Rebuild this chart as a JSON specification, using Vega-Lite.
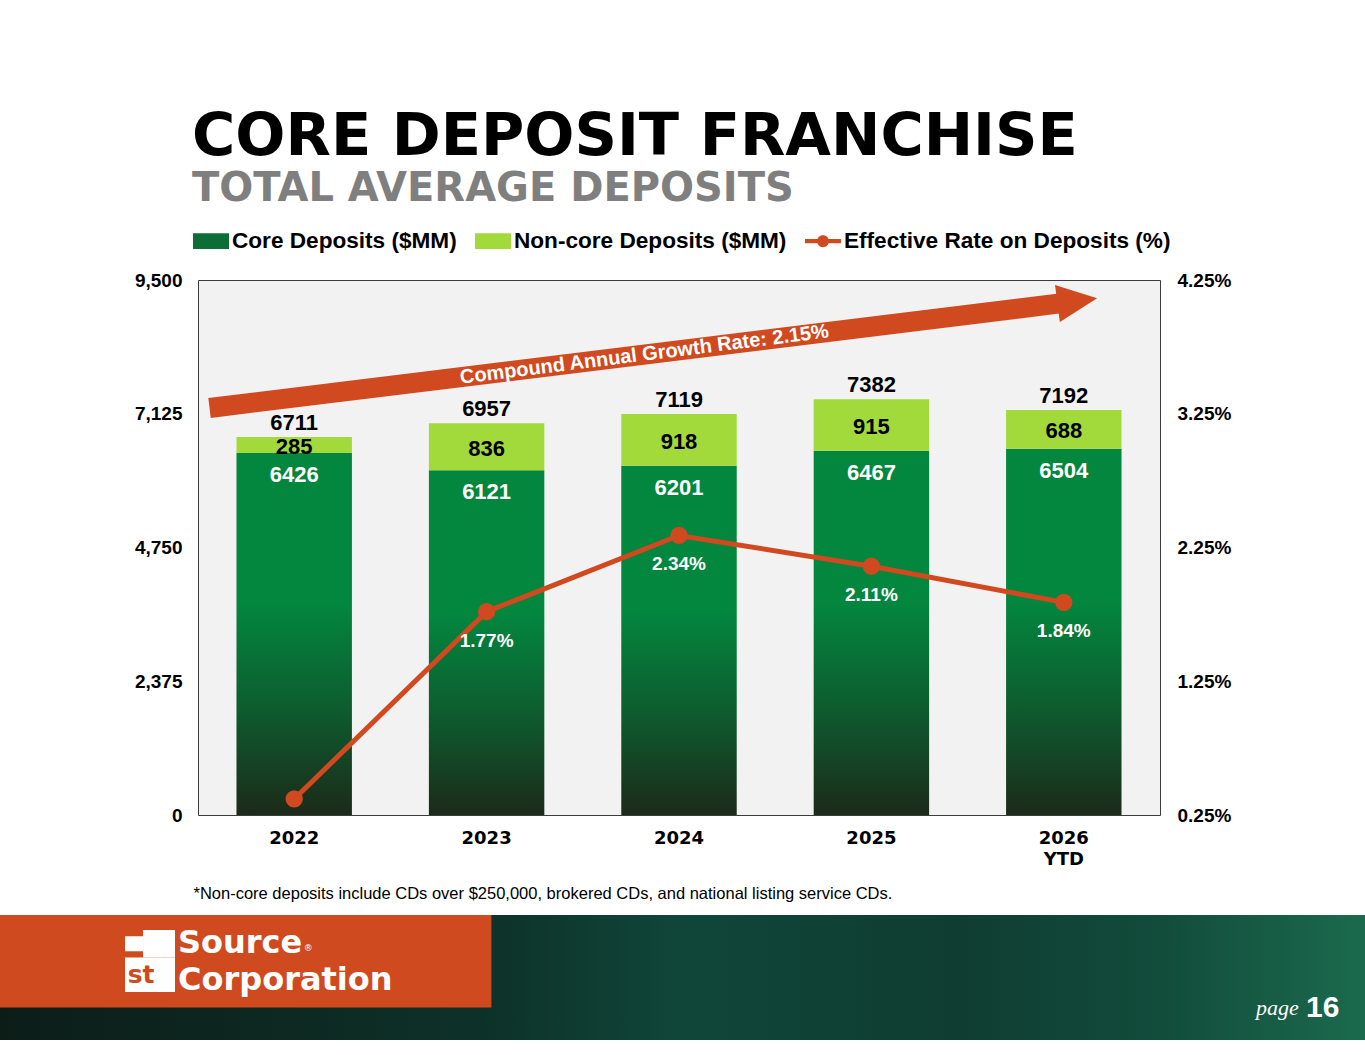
{
  "$schema": "https://vega.github.io/schema/vega-lite/v6.json",
  "padding": {"top": 107, "left": 0, "right": 0, "bottom": 0},
  "background": "#ffffff",
  "config": {"view": {"stroke": null}, "font": "Liberation Sans"},
  "datasets": {
    "deposits": [
      {"year": "2022", "core": 6426, "noncore": 285, "total": 6711, "rate": 0.0037},
      {"year": "2023", "core": 6121, "noncore": 836, "total": 6957, "rate": 0.0177},
      {"year": "2024", "core": 6201, "noncore": 918, "total": 7119, "rate": 0.0234},
      {"year": "2025", "core": 6467, "noncore": 915, "total": 7382, "rate": 0.0211},
      {"year": "2026 YTD", "core": 6504, "noncore": 688, "total": 7192, "rate": 0.0184}
    ],
    "cagr_arrow": [
      {"year": 2021.56, "deposits": 7227},
      {"year": 2025.98, "deposits": 9084}
    ]
  },
  "spacing": 13,
  "vconcat": [
    {
      "spacing": 20,
      "hconcat": [
        {"width": 113, "height": 10, "data": {"values": [{}]}, "mark": {"type": "point", "opacity": 0}},
        {
          "width": 962,
          "height": 535,
          "view": {"fill": "#f2f2f2", "stroke": "#3c3c3c", "strokeWidth": 1},
          "title": {
            "text": "CORE DEPOSIT FRANCHISE",
            "subtitle": "TOTAL AVERAGE DEPOSITS",
            "anchor": "start",
            "frame": "group",
            "dx": -6,
            "offset": 54,
            "font": "DejaVu Sans",
            "fontSize": 59,
            "fontWeight": "bold",
            "color": "#000000",
            "subtitleFont": "DejaVu Sans",
            "subtitleFontSize": 40,
            "subtitleFontWeight": "bold",
            "subtitleColor": "#7f7f7f",
            "subtitlePadding": 2
          },
          "resolve": {"scale": {"x": "independent", "y": "independent"}},
          "layer": [
            {
              "data": {"name": "deposits"},
              "layer": [
                {
                  "transform": [{"filter": "false"}],
                  "mark": {"type": "point", "filled": true, "opacity": 1},
                  "encoding": {
                    "color": {
                      "field": "series",
                      "type": "nominal",
                      "scale": {
                        "domain": ["Core Deposits ($MM)", "Non-core Deposits ($MM)", "Effective Rate on Deposits (%)"],
                        "range": ["#0b6f35", "#a3da3b", "#d1491f"]
                      },
                      "legend": {
                        "orient": "none",
                        "legendX": 193,
                        "legendY": -57,
                        "direction": "horizontal",
                        "title": null,
                        "labelFont": "Liberation Sans",
                        "labelFontSize": 22.6,
                        "labelFontWeight": "bold",
                        "labelColor": "#000000",
                        "labelLimit": 600,
                        "labelOffset": 3,
                        "columnPadding": 18,
                        "symbolSize": 1296,
                        "symbolStrokeWidth": 0,
                        "symbolOpacity": 1
                      }
                    },
                    "shape": {
                      "field": "series",
                      "type": "nominal",
                      "scale": {
                        "domain": ["Core Deposits ($MM)", "Non-core Deposits ($MM)", "Effective Rate on Deposits (%)"],
                        "range": ["M-1,-0.44L1,-0.44L1,0.44L-1,0.44Z", "M-1,-0.44L1,-0.44L1,0.44L-1,0.44Z", "M-1,-0.12L1,-0.12L1,0.12L-1,0.12Z M-0.33,0A0.33,0.33 0 1 1 0.33,0A0.33,0.33 0 1 1 -0.33,0Z"]
                      }
                    }
                  }
                },
                {
                  "mark": {
                    "type": "bar",
                    "fill": {"gradient": "linear", "x1": 0, "y1": 0, "x2": 0, "y2": 1, "stops": [{"offset": 0, "color": "#03863e"}, {"offset": 0.42, "color": "#03863e"}, {"offset": 0.72, "color": "#0e5a2e"}, {"offset": 1, "color": "#1c2a1a"}]}
                  },
                  "encoding": {
                    "x": {
                      "field": "year",
                      "type": "nominal",
                      "sort": null,
                      "scale": {"domain": ["2022", "2023", "2024", "2025", "2026 YTD"], "paddingInner": 0.4, "paddingOuter": 0.2},
                      "axis": {
                        "title": "*Non-core deposits include CDs over $250,000, brokered CDs, and national listing service CDs.",
                        "labelExpr": "split(datum.label, ' ')",
                        "labelAngle": 0,
                        "labelFont": "DejaVu Sans",
                        "labelFontSize": 18,
                        "labelFontWeight": "bold",
                        "labelColor": "#000000",
                        "labelPadding": 14,
                        "labelLineHeight": 21,
                        "domain": false,
                        "ticks": false,
                        "grid": false,
                        "titleFont": "Liberation Sans",
                        "titleFontSize": 16.5,
                        "titleFontWeight": "normal",
                        "titleColor": "#000000",
                        "titleAnchor": "start",
                        "titleAlign": "left",
                        "titleBaseline": "alphabetic",
                        "titleX": -5,
                        "titleY": 83
                      }
                    },
                    "y": {
                      "field": "core",
                      "type": "quantitative",
                      "scale": {"domain": [0, 9500], "nice": false},
                      "axis": {
                        "title": null,
                        "orient": "left",
                        "values": [0, 2375, 4750, 7125, 9500],
                        "format": ",.0f",
                        "labelFont": "Liberation Sans",
                        "labelFontSize": 19,
                        "labelFontWeight": "bold",
                        "labelColor": "#000000",
                        "labelPadding": 16,
                        "domain": false,
                        "ticks": false,
                        "grid": false
                      }
                    }
                  }
                },
                {
                  "mark": {"type": "bar", "fill": "#a3da3b"},
                  "encoding": {
                    "x": {"field": "year", "type": "nominal", "sort": null},
                    "y": {"field": "core", "type": "quantitative"},
                    "y2": {"field": "total"}
                  }
                },
                {
                  "mark": {"type": "text", "font": "Liberation Sans", "fontSize": 22, "fontWeight": "bold", "color": "#000000", "baseline": "alphabetic", "dy": -7},
                  "encoding": {
                    "x": {"field": "year", "type": "nominal", "sort": null},
                    "y": {"field": "total", "type": "quantitative"},
                    "text": {"field": "total", "type": "quantitative", "format": "d"}
                  }
                },
                {
                  "transform": [
                    {"fold": ["core", "total"], "as": ["part", "level"]},
                    {"aggregate": [{"op": "mean", "field": "level", "as": "mid"}, {"op": "max", "field": "noncore", "as": "noncore"}], "groupby": ["year"]}
                  ],
                  "mark": {"type": "text", "font": "Liberation Sans", "fontSize": 22, "fontWeight": "bold", "color": "#000000", "baseline": "middle", "dy": 2},
                  "encoding": {
                    "x": {"field": "year", "type": "nominal", "sort": null},
                    "y": {"field": "mid", "type": "quantitative"},
                    "text": {"field": "noncore", "type": "quantitative", "format": "d"}
                  }
                },
                {
                  "mark": {"type": "text", "font": "Liberation Sans", "fontSize": 22, "fontWeight": "bold", "color": "#ffffff", "baseline": "alphabetic", "dy": 29},
                  "encoding": {
                    "x": {"field": "year", "type": "nominal", "sort": null},
                    "y": {"field": "core", "type": "quantitative"},
                    "text": {"field": "core", "type": "quantitative", "format": "d"}
                  }
                }
              ]
            },
            {
              "layer": [
                {
                  "data": {"name": "cagr_arrow"},
                  "mark": {"type": "line", "color": "#d1491f", "strokeWidth": 20, "strokeCap": "butt"},
                  "encoding": {
                    "x": {"field": "year", "type": "quantitative", "scale": {"domain": [2021.5, 2026.5], "nice": false, "zero": false}, "axis": null},
                    "y": {"field": "deposits", "type": "quantitative", "scale": {"domain": [0, 9500], "nice": false}, "axis": null}
                  }
                },
                {
                  "data": {"values": [{}]},
                  "mark": {"type": "point", "filled": true, "opacity": 1, "color": "#d1491f", "shape": "M1,0L-1,-0.93L-1,0.93Z", "size": 1600, "angle": 352.5},
                  "encoding": {
                    "x": {"datum": 2026.07, "type": "quantitative"},
                    "y": {"datum": 9129, "type": "quantitative"}
                  }
                },
                {
                  "data": {"values": [{}]},
                  "mark": {"type": "text", "text": "Compound Annual Growth Rate: 2.15%", "font": "Liberation Sans", "fontSize": 20, "fontWeight": "bold", "color": "#ffffff", "align": "center", "baseline": "middle", "angle": 352.8},
                  "encoding": {
                    "x": {"datum": 2023.82, "type": "quantitative"},
                    "y": {"datum": 8175, "type": "quantitative"}
                  }
                }
              ]
            },
            {
              "data": {"name": "deposits"},
              "layer": [
                {
                  "mark": {"type": "line", "color": "#d1491f", "strokeWidth": 5},
                  "encoding": {
                    "x": {"field": "year", "type": "nominal", "sort": null, "scale": {"domain": ["2022", "2023", "2024", "2025", "2026 YTD"], "paddingInner": 0.4, "paddingOuter": 0.2}, "axis": null},
                    "y": {
                      "field": "rate",
                      "type": "quantitative",
                      "scale": {"domain": [0.0025, 0.0425], "nice": false, "zero": false},
                      "axis": {
                        "title": null,
                        "orient": "right",
                        "values": [0.0025, 0.0125, 0.0225, 0.0325, 0.0425],
                        "format": ".2%",
                        "labelFont": "Liberation Sans",
                        "labelFontSize": 19,
                        "labelFontWeight": "bold",
                        "labelColor": "#000000",
                        "labelPadding": 17,
                        "domain": false,
                        "ticks": false,
                        "grid": false
                      }
                    }
                  }
                },
                {
                  "mark": {"type": "point", "filled": true, "opacity": 1, "color": "#d1491f", "size": 300},
                  "encoding": {
                    "x": {"field": "year", "type": "nominal", "sort": null},
                    "y": {"field": "rate", "type": "quantitative"}
                  }
                },
                {
                  "transform": [{"filter": "datum.year !== '2022'"}],
                  "mark": {"type": "text", "font": "Liberation Sans", "fontSize": 19, "fontWeight": "bold", "color": "#ffffff", "baseline": "alphabetic", "dy": 35},
                  "encoding": {
                    "x": {"field": "year", "type": "nominal", "sort": null},
                    "y": {"field": "rate", "type": "quantitative"},
                    "text": {"field": "rate", "type": "quantitative", "format": ".2%"}
                  }
                }
              ]
            }
          ]
        }
      ]
    },
    {
      "width": 1365,
      "height": 125,
      "data": {"values": [{}]},
      "layer": [
        {
          "mark": {"type": "rect", "fill": {"gradient": "linear", "x1": 0, "y1": 0, "x2": 1, "y2": 0, "stops": [{"offset": 0, "color": "#0c1d18"}, {"offset": 0.35, "color": "#0d3128"}, {"offset": 0.5, "color": "#10463a"}, {"offset": 0.7, "color": "#0f3d31"}, {"offset": 0.85, "color": "#124c3b"}, {"offset": 1, "color": "#1b6a4e"}]}},
          "encoding": {
            "x": {"datum": 0, "type": "quantitative", "scale": {"domain": [0, 1], "nice": false, "zero": false}, "axis": null},
            "x2": {"datum": 1},
            "y": {"datum": 0, "type": "quantitative", "scale": {"domain": [0, 1], "nice": false, "zero": false, "reverse": true}, "axis": null},
            "y2": {"datum": 1}
          }
        },
        {
          "mark": {"type": "rect", "fill": "#d04a1f"},
          "encoding": {
            "x": {"datum": 0, "type": "quantitative"},
            "x2": {"datum": 0.36},
            "y": {"datum": 0, "type": "quantitative"},
            "y2": {"datum": 0.74}
          }
        },
        {
          "mark": {"type": "rect", "fill": "#ffffff"},
          "encoding": {
            "x": {"datum": 0.0916, "type": "quantitative"},
            "x2": {"datum": 0.1282},
            "y": {"datum": 0.34, "type": "quantitative"},
            "y2": {"datum": 0.616}
          }
        },
        {
          "mark": {"type": "rect", "fill": "#ffffff"},
          "encoding": {
            "x": {"datum": 0.1048, "type": "quantitative"},
            "x2": {"datum": 0.1282},
            "y": {"datum": 0.12, "type": "quantitative"},
            "y2": {"datum": 0.34}
          }
        },
        {
          "mark": {"type": "rect", "fill": "#ffffff"},
          "encoding": {
            "x": {"datum": 0.0916, "type": "quantitative"},
            "x2": {"datum": 0.1048},
            "y": {"datum": 0.17, "type": "quantitative"},
            "y2": {"datum": 0.29}
          }
        },
        {
          "mark": {"type": "text", "text": "st", "font": "DejaVu Sans", "fontSize": 25, "fontWeight": "bold", "color": "#d04a1f", "align": "left", "baseline": "alphabetic"},
          "encoding": {"x": {"datum": 0.0935, "type": "quantitative"}, "y": {"datum": 0.544, "type": "quantitative"}}
        },
        {
          "mark": {"type": "text", "text": "Source", "font": "DejaVu Sans", "fontSize": 32, "fontWeight": "bold", "color": "#ffffff", "align": "left", "baseline": "alphabetic"},
          "encoding": {"x": {"datum": 0.1304, "type": "quantitative"}, "y": {"datum": 0.304, "type": "quantitative"}}
        },
        {
          "mark": {"type": "text", "text": "®", "font": "DejaVu Sans", "fontSize": 9, "color": "#ffffff", "align": "left", "baseline": "alphabetic"},
          "encoding": {"x": {"datum": 0.2225, "type": "quantitative"}, "y": {"datum": 0.29, "type": "quantitative"}}
        },
        {
          "mark": {"type": "text", "text": "Corporation", "font": "DejaVu Sans", "fontSize": 32, "fontWeight": "bold", "color": "#ffffff", "align": "left", "baseline": "alphabetic"},
          "encoding": {"x": {"datum": 0.1304, "type": "quantitative"}, "y": {"datum": 0.6, "type": "quantitative"}}
        },
        {
          "mark": {"type": "text", "text": "page", "font": "Liberation Serif", "fontSize": 22, "fontStyle": "italic", "color": "#ffffff", "align": "left", "baseline": "alphabetic"},
          "encoding": {"x": {"datum": 0.9201, "type": "quantitative"}, "y": {"datum": 0.8, "type": "quantitative"}}
        },
        {
          "mark": {"type": "text", "text": "16", "font": "Liberation Sans", "fontSize": 30, "fontWeight": "bold", "color": "#ffffff", "align": "left", "baseline": "alphabetic"},
          "encoding": {"x": {"datum": 0.9568, "type": "quantitative"}, "y": {"datum": 0.816, "type": "quantitative"}}
        }
      ]
    }
  ]
}
